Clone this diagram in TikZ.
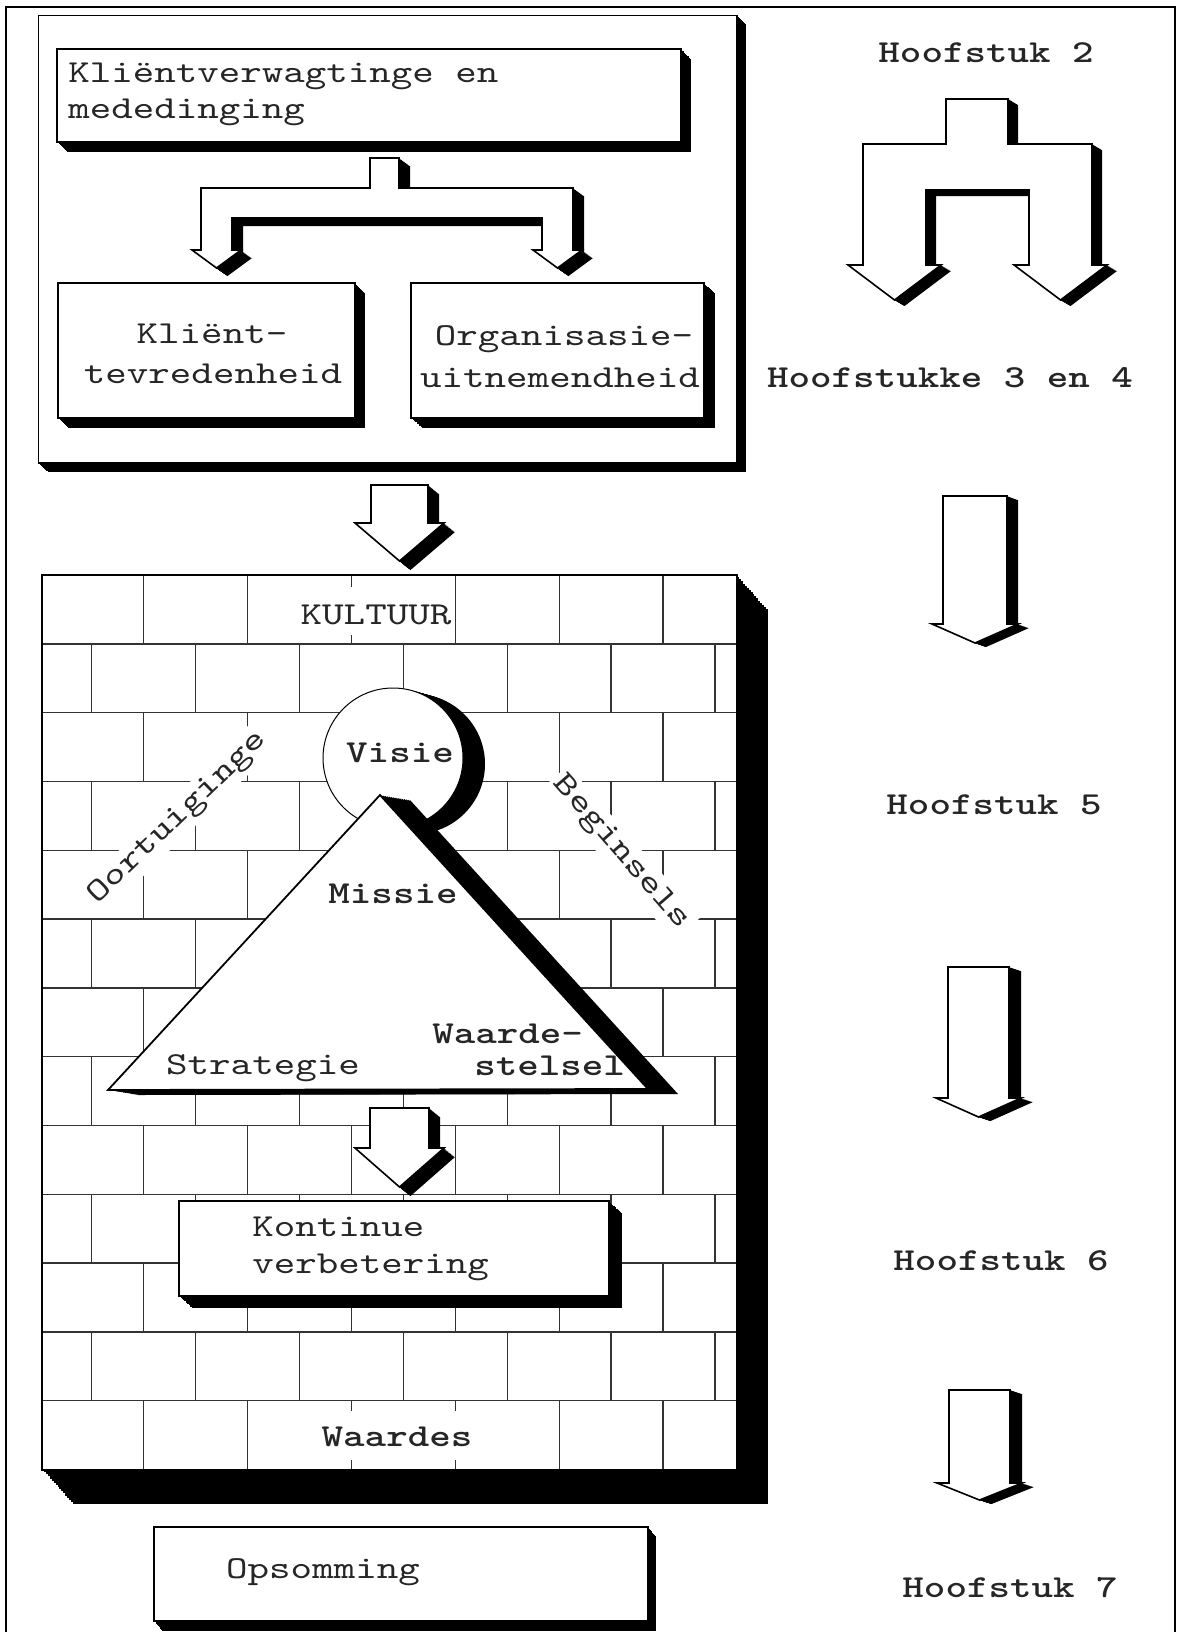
\documentclass[tikz,border=0pt]{standalone}
\usepackage{fontspec}
\newfontfamily\cour{lmmono10-regular.otf}[FakeStretch=1.28, BoldFont=lmmonolt10-bold.otf]
% solid white face with a black extrusion behind it: [face style]{dx}{dy}{path}
\newcommand\extruded[4][outline]{%
  \foreach \k in {1,...,16}{\fill[black,shift={({#2*\k/16},{#3*\k/16})}] #4;}%
  \path[#1] #4;}
% straight block arrow pointing down: {xl}{xr}{top}{shaft bottom}{overhang}{tip y}{dx}{dy}
\newcommand\blockarrow[8]{\extruded{#7}{#8}{(#1,#3) -- (#2,#3) -- (#2,#4) -- ({#2+#5},#4) -- ({(#1+#2)/2},#6) -- ({#1-#5},#4) -- (#1,#4) -- cycle}}
\begin{document}
\begin{tikzpicture}[x=0.5pt,y=-0.5pt,
  lbl/.style={font=\cour\fontsize{16}{18}\selectfont, inner sep=0pt, text=black!85},
  blbl/.style={lbl, font=\cour\bfseries\fontsize{16}{18}\selectfont},
  outline/.style={draw=black, line width=0.8pt, fill=white},
  mortar/.style={line width=0.7pt, draw=black!80}]
\useasboundingbox (0,0) rectangle (1179,1632);
\fill[white] (0,0) rectangle (1179,1632);
\draw[line width=0.9pt] (6,1640) -- (6,7) -- (1175,7) -- (1175,1640);

% ---- upper panel: expectations and competition
\extruded{9}{9}{(38.5,15.5) rectangle (737,463)}
\extruded{10}{10}{(57,49) rectangle (681,142)}
\node[lbl, anchor=base west] (k1a) at (68,83) {Kliëntverwagtinge en};
\node[lbl, anchor=base west] (k1b) at (68,119) {mededinging};
\extruded{11}{8}{(370,158) -- (399,158) -- (399,188) -- (573,188) -- (573,250) -- (582,250) -- (557.5,268) -- (533,250) -- (542,250) -- (542,218) -- (232,218) -- (232,250) -- (241,250) -- (216.5,268) -- (192,250) -- (201,250) -- (201,188) -- (370,188) -- cycle}
\extruded{10}{10}{(58,283) rectangle (355,418)}
\node[lbl, anchor=base] (kta) at (212,343) {Kliënt-};
\node[lbl, anchor=base] (ktb) at (213,383) {tevredenheid};
\extruded{11}{10}{(411,283) rectangle (704,418)}
\node[lbl, anchor=base] (oua) at (564,345) {Organisasie-};
\node[lbl, anchor=base] (oub) at (560,387) {uitnemendheid};

% ---- arrow into the wall
\blockarrow{371}{428}{485}{523}{16}{561}{11}{9}

% ---- brick wall
\extruded{31}{34}{(42,575) rectangle (737,1470)}
\begin{scope}
  \clip (42,575) rectangle (737,1470);
  \foreach \r in {1,...,12} \draw[mortar] (42,{575+68.8*\r}) -- (737,{575+68.8*\r});
  \foreach \r in {0,...,12}{
    \pgfmathsetmacro\off{ifthenelse(mod(\r,2)==0,143.6,91.6)}
    \foreach \k in {0,...,6} \draw[mortar] ({\off+103.9*\k},{575+68.8*\r}) -- ++(0,68.8);
  }
\end{scope}
\draw[line width=0.8pt] (42,575) rectangle (737,1470);

\node[lbl, fill=white, text height=18.5pt, text depth=5.5pt, inner xsep=2pt, anchor=base] (kult) at (376,624) {KULTUUR};
\node[blbl, fill=white, text height=17.5pt, text depth=7pt, inner xsep=2pt, anchor=base] (wrd) at (397,1446) {Waardes};
\node[lbl, fill=white, inner sep=2pt, rotate=44] (oort) at (178,818) {Oortuiginge};
\node[lbl, fill=white, inner sep=2pt, rotate=-49] (begin) at (621,853) {Beginsels};

% vision disc and mission triangle
\extruded[outline, line width=0.5pt]{22}{6}{(393,758) circle[radius=35pt]}
\node[blbl, anchor=base] (vis) at (400,762) {Visie};
\extruded[outline, line width=0.9pt]{30}{5}{(380,795) -- (648,1089) -- (108,1090) -- cycle}
\node[blbl, anchor=base] (mis) at (393,903) {Missie};
\node[lbl, anchor=base] (strat) at (263,1074) {Strategie};
\node[blbl, anchor=base west] (wsa) at (432,1043) {Waarde-};
\node[blbl, anchor=base west] (wsb) at (474,1075) {stelsel};

% continuous improvement
\blockarrow{370}{429}{1108}{1148}{15}{1187}{11}{9}
\extruded{13}{12}{(179,1201) rectangle (609,1296)}
\node[lbl, anchor=base west] (kva) at (252,1236) {Kontinue};
\node[lbl, anchor=base west] (kvb) at (252,1273) {verbetering};

% summary
\extruded{8}{10}{(154,1527) rectangle (648,1621)}
\node[lbl, anchor=base] (ops) at (323,1578) {Opsomming};

% ---- chapter column
\node[blbl, anchor=base] (h2) at (986,63) {Hoofstuk 2};
\extruded{10}{6}{(946,99) -- (1008,99) -- (1008,144) -- (1092,144) -- (1092,265) -- (1107,265) -- (1060.5,300) -- (1014,265) -- (1029,265) -- (1029,190) -- (926,190) -- (926,265) -- (941,265) -- (894.5,300) -- (848,265) -- (863,265) -- (863,144) -- (946,144) -- cycle}
\node[blbl, anchor=base] (h34) at (950,387) {Hoofstukke 3 en 4};
\blockarrow{943}{1007}{496}{624}{11}{643}{11}{4}
\node[blbl, anchor=base] (h5) at (994,814) {Hoofstuk 5};
\blockarrow{948}{1009}{967}{1098}{12}{1117}{12}{4}
\node[blbl, anchor=base] (h6) at (1001,1270) {Hoofstuk 6};
\blockarrow{949}{1010}{1390}{1483}{12}{1500}{12}{4}
\node[blbl, anchor=base] (h7) at (1010,1597) {Hoofstuk 7};
\end{tikzpicture}
\end{document}
